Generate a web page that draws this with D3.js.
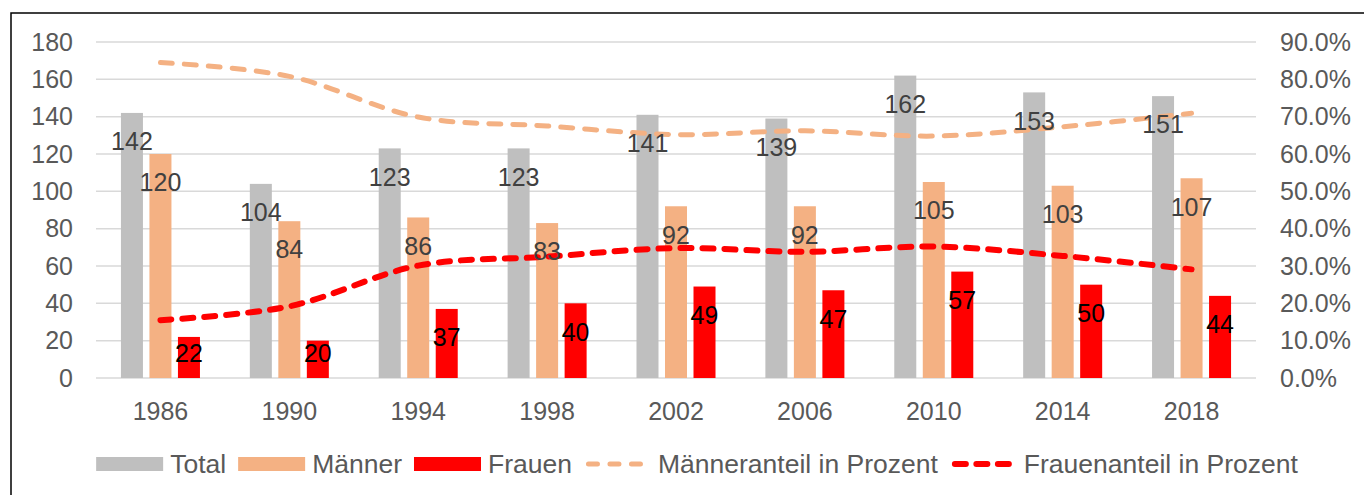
<!DOCTYPE html>
<html>
<head>
<meta charset="utf-8">
<script src="https://cdn.jsdelivr.net/npm/d3@7"></script>
<style>
  body { margin: 0; background: #fff; }
  svg { display: block; font-family: "Liberation Sans", Arial, sans-serif; }
</style>
</head>
<body>
<div id="chart"></div>
<script>
var years = ["1986", "1990", "1994", "1998", "2002", "2006", "2010", "2014", "2018"],
    total = [142, 104, 123, 123, 141, 139, 162, 153, 151],
    maenner = [120, 84, 86, 83, 92, 92, 105, 103, 107],
    frauen = [22, 20, 37, 40, 49, 47, 57, 50, 44],
    maennerAnteil = [84.5, 80.8, 69.9, 67.5, 65.2, 66.2, 64.8, 67.3, 70.9],
    frauenAnteil = [15.5, 19.2, 30.1, 32.5, 34.8, 33.8, 35.2, 32.7, 29.1],
    leftTicks = [0, 20, 40, 60, 80, 100, 120, 140, 160, 180],
    rightTicks = [0, 10, 20, 30, 40, 50, 60, 70, 80, 90];

var width = 1364,
    height = 495,
    plot = {left: 96, right: 1256, top: 42, bottom: 378};

var svg = d3.select("#chart")
    .append("svg")
    .attr("width", width)
    .attr("height", height);

// frame
svg.append("rect")
    .attr("x", 11).attr("y", 13)
    .attr("width", 1400).attr("height", 600)
    .attr("fill", "none")
    .attr("stroke", "#000")
    .attr("stroke-width", 1.5);

var y = d3.scaleLinear().domain([0, 180]).range([plot.bottom, plot.top]),
    yr = d3.scaleLinear().domain([0, 90]).range([plot.bottom, plot.top]),
    x0 = d3.scaleBand().domain(years).range([plot.left, plot.right])
        .paddingInner(0.387).paddingOuter(0.1935),
    series = [
        {name: "Total", values: total, color: "#bfbfbf", label: "#404040"},
        {name: "Männer", values: maenner, color: "#f4b183", label: "#404040"},
        {name: "Frauen", values: frauen, color: "#ff0000", label: "#000000"}
    ],
    x1 = d3.scaleBand().domain(series.map(function(s) { return s.name; }))
        .range([0, x0.bandwidth()]).paddingInner(0.228),
    cx = function(yr) { return x0(yr) + x0.bandwidth() / 2; };

// gridlines
svg.append("g")
    .selectAll("line")
    .data(leftTicks)
    .join("line")
    .attr("x1", plot.left).attr("x2", plot.right)
    .attr("y1", function(d) { return y(d); })
    .attr("y2", function(d) { return y(d); })
    .attr("stroke", "#d9d9d9")
    .attr("stroke-width", 1.5);

// left axis
var leftAxis = svg.append("g")
    .attr("transform", "translate(73,0)")
    .call(d3.axisLeft(y).tickValues(leftTicks).tickSize(0).tickPadding(0));
leftAxis.select(".domain").remove();
leftAxis.selectAll("text")
    .attr("font-size", 25).attr("fill", "#595959")
    .attr("font-family", "Liberation Sans, Arial, sans-serif");

// right axis
var rightAxis = svg.append("g")
    .attr("transform", "translate(1280,0)")
    .call(d3.axisRight(yr).tickValues(rightTicks).tickSize(0).tickPadding(0)
        .tickFormat(function(d) { return d3.format(".1f")(d) + "%"; }));
rightAxis.select(".domain").remove();
rightAxis.selectAll("text")
    .attr("font-size", 25).attr("fill", "#595959")
    .attr("font-family", "Liberation Sans, Arial, sans-serif");

// x axis
var xAxis = svg.append("g")
    .attr("transform", "translate(0," + plot.bottom + ")")
    .call(d3.axisBottom(x0).tickSize(0).tickPadding(24));
xAxis.select(".domain").remove();
xAxis.selectAll("text")
    .attr("font-size", 25).attr("fill", "#595959")
    .attr("font-family", "Liberation Sans, Arial, sans-serif");

// bars
series.forEach(function(s) {
    svg.append("g")
        .selectAll("rect")
        .data(years)
        .join("rect")
        .attr("x", function(d) { return x0(d) + x1(s.name); })
        .attr("width", x1.bandwidth())
        .attr("y", function(d, i) { return y(s.values[i]); })
        .attr("height", function(d, i) { return plot.bottom - y(s.values[i]); })
        .attr("fill", s.color);
});

// lines
var lines = [
    {name: "Männeranteil in Prozent", values: maennerAnteil, color: "#f4b183", w: 5, dash: "12,12"},
    {name: "Frauenanteil in Prozent", values: frauenAnteil, color: "#ff0000", w: 6, dash: "11,11"}
];
var lineGen = d3.line().curve(d3.curveCatmullRom.alpha(0.5));
lines.forEach(function(l) {
    svg.append("path")
        .attr("d", lineGen(years.map(function(d, i) { return [cx(d), yr(l.values[i])]; })))
        .attr("fill", "none")
        .attr("stroke", l.color)
        .attr("stroke-width", l.w)
        .attr("stroke-dasharray", l.dash)
        .attr("stroke-linecap", "round");
});

// bar labels
series.forEach(function(s) {
    svg.append("g")
        .selectAll("text")
        .data(years)
        .join("text")
        .attr("x", function(d) { return x0(d) + x1(s.name) + x1.bandwidth() / 2; })
        .attr("y", function(d, i) { return Math.min(y(s.values[i]) + 28.5, plot.bottom - 25); })
        .attr("dy", "0.35em")
        .attr("text-anchor", "middle")
        .attr("font-size", 25)
        .attr("fill", s.label)
        .text(function(d, i) { return s.values[i]; });
});

// legend
var legend = svg.append("g").attr("transform", "translate(0,464)"),
    items = series.map(function(s) { return {name: s.name, color: s.color, type: "bar"}; })
        .concat(lines.map(function(l) { return {name: l.name, color: l.color, type: "line", w: l.w}; })),
    pos = 0;
items.forEach(function(it) {
    var g = legend.append("g").attr("transform", "translate(" + pos + ",0)");
    if (it.type === "bar") {
        g.append("rect").attr("x", 0).attr("y", -7).attr("width", 67).attr("height", 14)
            .attr("fill", it.color);
    } else {
        g.append("line").attr("x1", it.w / 2 + 2).attr("x2", 67 - it.w / 2 - 2)
            .attr("y1", 0).attr("y2", 0)
            .attr("stroke", it.color).attr("stroke-width", it.w)
            .attr("stroke-linecap", "round")
            .attr("stroke-dasharray", it.w === 5 ? "9,12.5" : "11,10.5");
    }
    var t = g.append("text").attr("x", 74).attr("dy", "0.35em")
        .attr("font-size", 26.5).attr("fill", "#595959").text(it.name);
    pos += 74 + t.node().getComputedTextLength() + 12;
});
legend.attr("transform", "translate(" + (697 - (pos - 12) / 2) + ",464)");
</script>
</body>
</html>
